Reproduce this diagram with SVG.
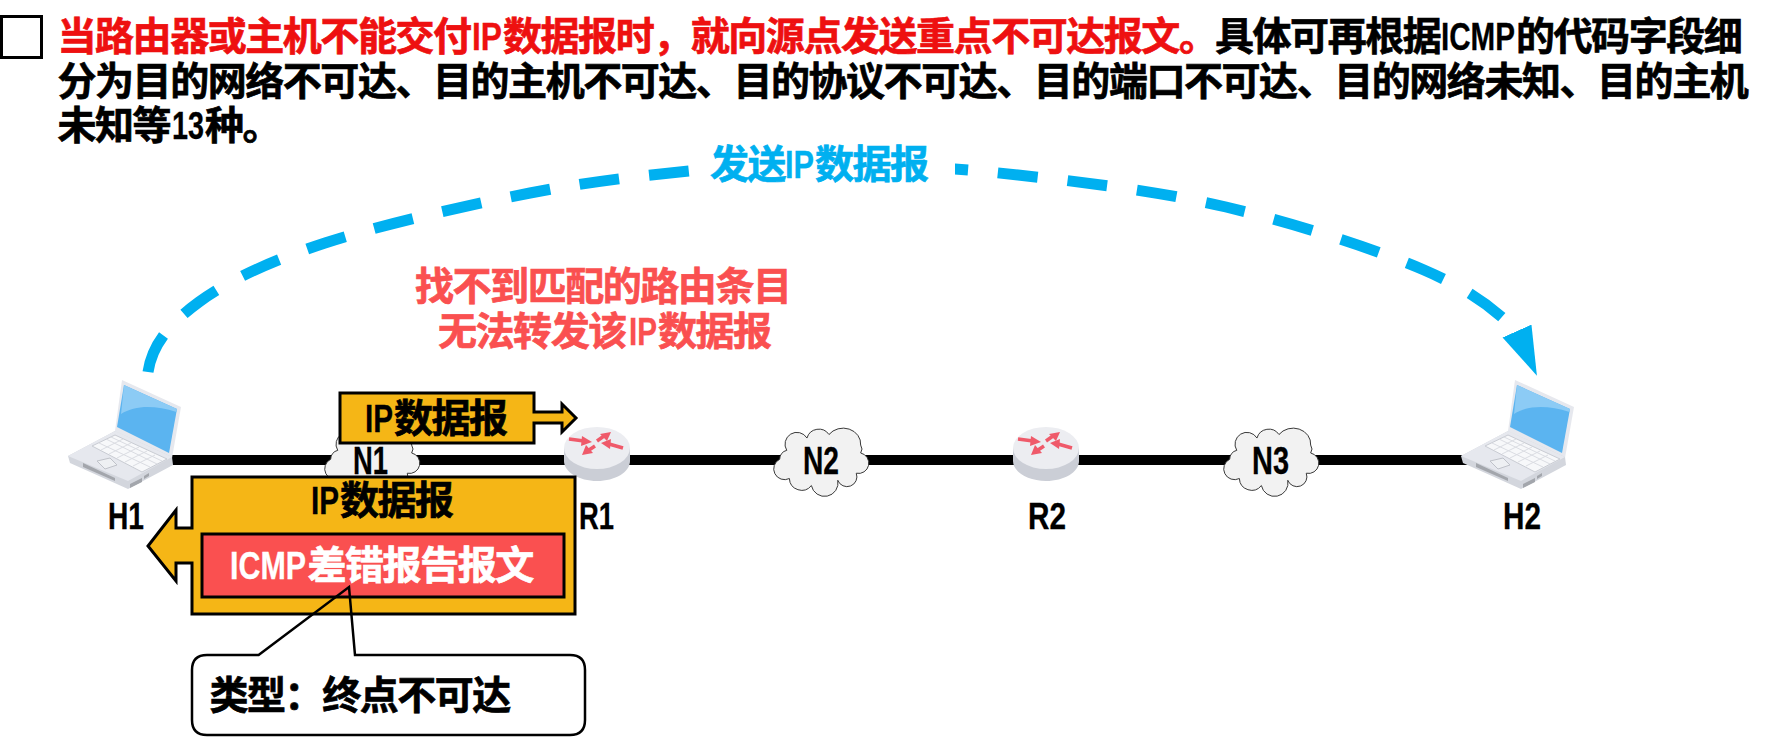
<svg xmlns="http://www.w3.org/2000/svg" xmlns:xlink="http://www.w3.org/1999/xlink" width="1783" height="741" viewBox="0 0 1783 741">
<style>
text{font-family:"Noto Sans CJK SC","Noto Sans",sans-serif;font-weight:700;font-size:39px;letter-spacing:-1.45px;fill:#000;stroke:#000;stroke-width:.7px}
.l{font-family:"Liberation Sans",Arial,sans-serif;font-size:38px;letter-spacing:0;stroke-width:.3px}
.s{font-size:36px}
.red{fill:#EE1010;stroke:#EE1010}.soft{fill:#FA5050;stroke:#FA5050}.blue{fill:#00B0F0;stroke:#00B0F0}.white{fill:#fff;stroke:#fff}
.box{fill:#F5B616;stroke:#000;stroke-width:3}
.cloud{fill:#F2F2F2;stroke:#333;stroke-width:1.100}
.ra{stroke:#EF5A6A;stroke-width:3.500;fill:none}.rh{fill:#EF5A6A}
</style>
<defs>
<marker id="blueHead" markerUnits="userSpaceOnUse" markerWidth="50" markerHeight="32" viewBox="0 0 49 31" refX="0" refY="15.5" orient="66"><polygon points="0,0 48,15.5 0,31" fill="#00B0F0"/></marker>
<g id="laptop">
<polygon points="122,380 181,407 172,458 115,431" fill="#E6E8EE"/>
<polygon points="124,385 177,409 169,453 117,427" fill="#5BB4F0"/>
<path d="M124,385 L177,409 L176.500,412 C155,405 135,405 121,414 Z" fill="#8CCBF5"/>
<polygon points="68,456 115,431 172,457 173,465 128,489 70,463" fill="#D3D6DD"/>
<polygon points="68,456 115,431 172,457 128,481" fill="#E6E8EE"/>
<polygon points="92,446 115,435 167,459 142,472" fill="#F7F8FA" stroke="#C9CCD3" stroke-width="1"/>
<path d="M99,443 L150,467 M106,439 L157,464 M111,437 L162,461 M101,450 L123,439 M109,454 L131,443 M117,458 L139,447 M125,462 L147,451 M133,466 L155,455" stroke="#DADCE2" stroke-width="1" fill="none"/>
<polygon points="97,461 110,458 117,465 105,469" fill="#EEF0F3" stroke="#BFC2C9" stroke-width="1"/>
<polygon points="83,463 115,478 115,481 83,467" fill="#A3A6AC"/>
<polygon points="130,484 142,478 142,482 130,488" fill="#A3A6AC"/>
<polygon points="144,476 149,473 149,476 144,479" fill="#A3A6AC"/>
</g>
<g id="router">
<path d="M564,448 L564,461 C564,472 579,481 597,481 C615,481 630,472 630,461 L630,448 Z" fill="#CBCED6"/>
<ellipse cx="597" cy="448" rx="33" ry="21" fill="#ECEDF1"/>
<path class="ra" d="M569,439 L584,441 M597,441 L604,436 M623,448 L609,444 M595,446 L589,450"/>
<polygon class="rh" points="592,442 581,446 582,436"/>
<polygon class="rh" points="611,432 607,441 600,434"/>
<polygon class="rh" points="601,443 611,439 610,449"/>
<polygon class="rh" points="582,455 586,445 593,453"/>
</g>
<path id="cloudShape" class="cloud" transform="translate(5.700,4) scale(.88)" d="M0,32 A10,10 0 0 1 8,22 A13,13 0 0 1 31,8 A14,14 0 0 1 56,4 A20,18 0 0 1 92,16 A8,8 0 0 1 92,25 A11,11 0 0 1 87,48 A11,11 0 0 1 66,56 A15,15 0 0 1 36,62 A14,14 0 0 1 11,54 A11,11 0 0 1 0,32 Z"/>
</defs>

<g id="connectors">
<path id="link" d="M170,460 H1480" stroke="#000" stroke-width="10" fill="none"/>
<path id="send-arc" d="M148,372 C152,345 169.500,323.500 199,302 C228.500,280.500 270,261 325,243 C380,225 467.500,205 530,193 C592.500,181 648,175 700,170 C752,165 787,162 840,163 C893,164 954,168 1018,175 C1082,182 1158,191 1226,207 C1294,223 1375.500,249 1424,270 C1472.500,291 1495,310 1517,331" fill="none" stroke="#00B0F0" stroke-width="11" stroke-dasharray="40 30" marker-end="url(#blueHead)"/>
</g>

<g id="headline">
<rect x="1.500" y="16.500" width="40" height="41" fill="#fff" stroke="#000" stroke-width="3"/>
<text y="50"><tspan x="57.500" class="red">当路由器或主机不能交付</tspan><tspan x="472" class="l red" textLength="30" lengthAdjust="spacingAndGlyphs">IP</tspan><tspan x="503" class="red">数据报时，就向源点发送重点不可达报文。</tspan><tspan x="1215">具体可再根据</tspan><tspan x="1441" class="l" textLength="74" lengthAdjust="spacingAndGlyphs">ICMP</tspan><tspan x="1516">的代码字段细</tspan></text>
<text x="57.500" y="95">分为目的网络不可达、目的主机不可达、目的协议不可达、目的端口不可达、目的网络未知、目的主机</text>
<text y="139"><tspan x="57.500">未知等</tspan><tspan x="172" class="l" textLength="32" lengthAdjust="spacingAndGlyphs">13</tspan><tspan x="205">种。</tspan></text>
</g>

<g id="send-label">
<rect x="691" y="148" width="264" height="38" fill="#fff"/>
<text y="178"><tspan x="710" class="blue">发送</tspan><tspan x="785" class="l blue" textLength="29" lengthAdjust="spacingAndGlyphs">IP</tspan><tspan x="815" class="blue">数据报</tspan></text>
</g>

<g id="no-route-label">
<text x="415" y="300" class="soft">找不到匹配的路由条目</text>
<text y="345"><tspan x="438" class="soft">无法转发该</tspan><tspan x="629" class="l soft" textLength="28" lengthAdjust="spacingAndGlyphs">IP</tspan><tspan x="658" class="soft">数据报</tspan></text>
</g>

<g id="N1"><use xlink:href="#cloudShape" href="#cloudShape" x="325" y="427"/><text x="353" y="474" class="l" textLength="35" lengthAdjust="spacingAndGlyphs">N1</text></g>
<g id="N2"><use xlink:href="#cloudShape" href="#cloudShape" x="774" y="427"/><text x="803" y="474" class="l" textLength="36" lengthAdjust="spacingAndGlyphs">N2</text></g>
<g id="N3"><use xlink:href="#cloudShape" href="#cloudShape" x="1224" y="427"/><text x="1252" y="474" class="l" textLength="37" lengthAdjust="spacingAndGlyphs">N3</text></g>
<g id="H1"><use xlink:href="#laptop" href="#laptop"/><text x="108" y="529" class="l s" textLength="36" lengthAdjust="spacingAndGlyphs">H1</text></g>
<g id="H2"><use xlink:href="#laptop" href="#laptop" x="1393"/><text x="1503" y="529" class="l s" textLength="38" lengthAdjust="spacingAndGlyphs">H2</text></g>
<g id="R1"><use xlink:href="#router" href="#router"/><text x="579" y="529" class="l s" textLength="35" lengthAdjust="spacingAndGlyphs">R1</text></g>
<g id="R2"><use xlink:href="#router" href="#router" x="449"/><text x="1028" y="529" class="l s" textLength="38" lengthAdjust="spacingAndGlyphs">R2</text></g>

<g id="datagram-forward">
<polygon class="box" points="340,393 534,393 534,412 562,412 562,404 576,418 562,432 562,423 534,423 534,443 340,443"/>
<text y="432"><tspan x="365" class="l" textLength="28" lengthAdjust="spacingAndGlyphs">IP</tspan><tspan x="394">数据报</tspan></text>
</g>

<g id="datagram-back">
<polygon class="box" points="192,477 575,477 575,614 192,614 192,563 176,563 176,581 148,546 176,510 176,528 192,528"/>
<text y="514"><tspan x="311" class="l" textLength="28" lengthAdjust="spacingAndGlyphs">IP</tspan><tspan x="340">数据报</tspan></text>
<rect x="202" y="534" width="362" height="63" fill="#FA5050" stroke="#000" stroke-width="3"/>
<text y="579"><tspan x="230" class="l white" textLength="76" lengthAdjust="spacingAndGlyphs">ICMP</tspan><tspan x="307.500" class="white">差错报告报文</tspan></text>
</g>

<g id="type-callout">
<path d="M258.600,655 L349,587 L355,655 L570,655 Q585,655 585,670 L585,720 Q585,735 570,735 L207,735 Q192,735 192,720 L192,670 Q192,655 207,655 Z" fill="none" stroke="#000" stroke-width="2.500"/>
<text x="209.500" y="709">类型：终点不可达</text>
</g>
</svg>
